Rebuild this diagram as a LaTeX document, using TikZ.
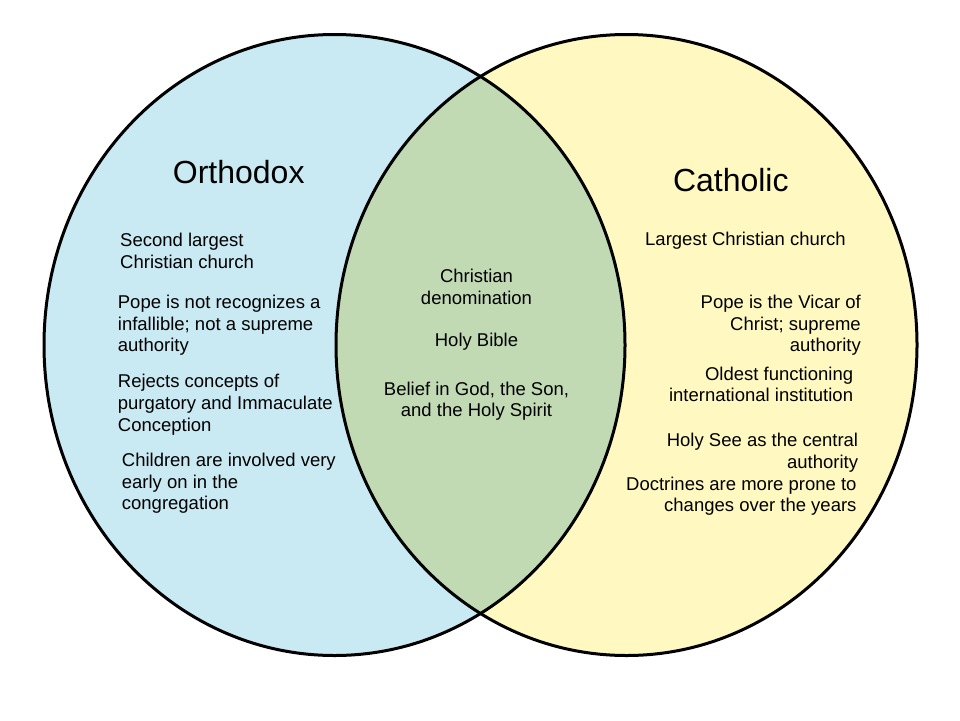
\documentclass[tikz,border=0pt]{standalone}
\usepackage{fontspec}
\setmainfont{Liberation Sans}
\definecolor{orthoblue}{RGB}{201,233,243}
\definecolor{cathyellow}{RGB}{255,249,193}
\definecolor{bothgreen}{RGB}{193,218,180}
\begin{document}
\begin{tikzpicture}[x=1pt,y=-1pt,
  body/.style={inner sep=0pt,font=\fontsize{18.5}{21.7}\selectfont},
  title/.style={inner sep=0pt,font=\fontsize{32}{38}\selectfont},
  ring/.style={line width=3pt,black}]
\useasboundingbox (0,0) rectangle (960,720);
\fill[white] (0,0) rectangle (960,720);
\fill[orthoblue] (334.5,345) ellipse [x radius=290.5, y radius=310.5];
\fill[cathyellow] (626.5,345) ellipse [x radius=290.5, y radius=310.5];
\begin{scope}
  \clip (334.5,345) ellipse [x radius=290.5, y radius=310.5];
  \fill[bothgreen] (626.5,345) ellipse [x radius=290.5, y radius=310.5];
\end{scope}
\draw[ring] (334.5,345) ellipse [x radius=290.5, y radius=310.5];
\draw[ring] (626.5,345) ellipse [x radius=290.5, y radius=310.5];

\node[title,anchor=base] (orth) at (238.7,183.3) {Orthodox};
\node[title,anchor=base] (cath) at (730.8,191) {Catholic};

\node[body,anchor=base west,align=left] (l1) at (120,268.3) {Second largest\\Christian church};
\node[body,anchor=base west,align=left] (l2) at (117.7,351.7) {Pope is not recognizes a\\infallible; not a supreme\\authority};
\node[body,anchor=base west,align=left] (l3) at (117.7,431) {Rejects concepts of\\purgatory and Immaculate\\Conception};
\node[body,anchor=base west,align=left] (l4) at (121.7,509.7) {Children are involved very\\early on in the\\congregation};

\node[body,anchor=base,align=center] (m1) at (476.5,304) {Christian\\denomination};
\node[body,anchor=base,align=center] (m2) at (476.5,346) {Holy Bible};
\node[body,anchor=base,align=center] (m3) at (476.5,416.7) {Belief in God, the Son,\\and the Holy Spirit};

\node[body,anchor=base west,align=left] (r1) at (645,245) {Largest Christian church};
\node[body,anchor=base east,align=right] (r2) at (861,351.7) {Pope is the Vicar of\\Christ; supreme\\authority};
\node[body,anchor=base east,align=right] (r3) at (853.3,401.7) {Oldest functioning\\international institution};
\node[body,anchor=base east,align=right] (r4) at (858.3,468.3) {Holy See as the central\\authority};
\node[body,anchor=base east,align=right] (r5) at (856.7,511.7) {Doctrines are more prone to\\changes over the years};
\end{tikzpicture}
\end{document}
